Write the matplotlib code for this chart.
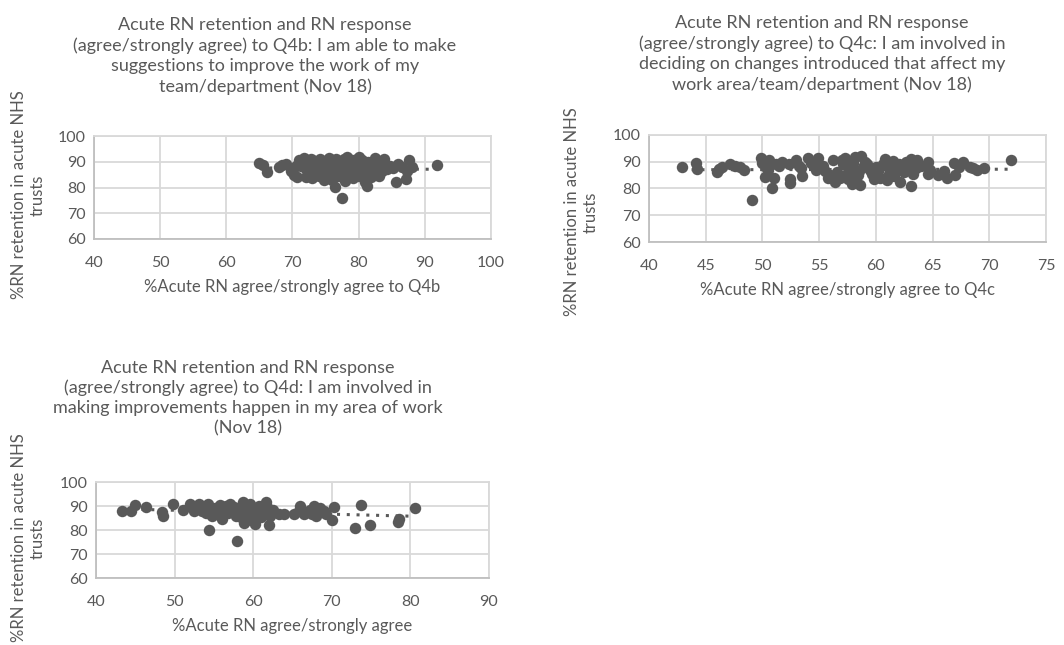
import numpy as np
import matplotlib
matplotlib.use("Agg")
import matplotlib.pyplot as plt

plt.rcParams['font.family'] = ['Lato', 'DejaVu Sans']

GREY = '#595959'
GRID = '#d9d9d9'

# Q4b: I am able to make suggestions ...
q4b_x = [65.0, 65.5, 66.1, 68.0, 68.4, 69.0, 69.8, 70.2, 70.7, 71.0, 71.3, 71.8, 72.0, 72.3, 72.5,
         72.8, 73.0, 73.2, 73.5, 73.8, 74.0, 74.2, 74.5, 74.8, 75.0, 75.2, 75.5, 75.8, 76.0, 76.2,
         76.4, 76.5, 76.8, 77.0, 77.2, 77.5, 77.5, 77.8, 78.0, 78.1, 78.3, 78.5, 78.6, 78.8, 79.0,
         79.2, 79.4, 79.5, 79.8, 80.0, 80.2, 80.4, 80.5, 80.8, 81.0, 81.2, 81.4, 81.5, 81.8, 82.0,
         82.2, 82.5, 82.8, 83.0, 83.3, 83.6, 84.0, 84.3, 84.8, 85.2, 85.6, 86.0, 86.5, 87.1, 87.3,
         87.6, 88.0, 91.8, 73.0, 75.5, 77.0, 79.0, 80.0, 81.0, 76.0, 74.0, 78.0, 82.0, 83.0, 72.0,
         70.5, 79.5, 77.8, 76.5, 80.8, 75.0, 83.8]
q4b_y = [89.5, 88.8, 86.2, 88.0, 88.7, 89.2, 86.5, 85.0, 84.0, 90.8, 88.5, 91.5, 87.0, 89.5, 85.5,
         91.0, 83.5, 88.0, 86.0, 90.0, 84.5, 91.2, 87.5, 83.0, 89.0, 85.5, 88.0, 84.0, 90.5, 86.5,
         80.3, 88.5, 89.5, 84.5, 90.0, 75.9, 86.0, 91.0, 82.5, 88.0, 91.8, 85.0, 89.0, 87.0, 90.5,
         83.5, 88.5, 86.0, 91.0, 84.5, 89.5, 87.0, 90.5, 85.5, 88.0, 80.6, 90.0, 86.5, 84.0, 89.0,
         87.5, 91.5, 85.0, 88.5, 90.0, 86.5, 88.0, 87.0, 88.5, 87.5, 82.1, 89.0, 88.0, 83.3, 86.5,
         90.7, 87.8, 88.7, 90.8, 91.5, 88.5, 87.5, 91.8, 82.0, 83.0, 86.5, 89.8, 86.0, 84.5, 84.0,
         88.5, 89.2, 85.2, 91.2, 88.8, 87.0, 91.0]

# Q4c: I am involved in deciding on changes ...
q4c_x = [42.9, 44.1, 44.2, 46.0, 46.2, 46.4, 47.1, 47.6, 48.0, 48.4, 49.1, 49.9, 50.0, 50.3, 50.2,
         50.6, 51.0, 50.8, 51.2, 51.7, 52.3, 52.4, 52.4, 53.2, 53.4, 53.5, 54.0, 54.3, 54.9, 54.7,
         55.3, 55.8, 56.2, 56.4, 56.6, 56.8, 57.1, 57.3, 57.5, 57.7, 57.9, 58.0, 58.2, 58.4, 58.6,
         58.7, 58.5, 58.9, 59.2, 59.5, 59.7, 60.0, 60.2, 60.4, 60.6, 60.8, 61.0, 61.2, 61.4, 61.6,
         61.8, 62.0, 62.1, 62.4, 62.7, 63.0, 63.1, 63.1, 63.3, 63.6, 64.0, 64.6, 64.6, 64.8, 65.5,
         66.0, 66.3, 66.9, 67.0, 67.3, 67.7, 68.3, 68.6, 68.9, 69.5, 71.9, 51.5, 55.0, 56.0, 57.0,
         58.0, 59.0, 60.0, 61.0, 62.5, 63.5, 55.5, 53.0, 50.5, 59.8, 61.5, 57.5]
q4c_y = [87.9, 89.7, 87.2, 86.2, 87.2, 88.2, 89.0, 88.3, 88.0, 87.1, 75.7, 91.5, 89.5, 88.0, 84.2,
         90.5, 84.0, 80.1, 89.0, 90.0, 89.0, 83.5, 82.0, 88.5, 87.5, 84.5, 91.5, 89.5, 91.5, 87.0,
         88.5, 84.0, 90.6, 82.3, 86.0, 84.0, 89.0, 91.5, 83.5, 87.0, 81.5, 89.5, 91.6, 85.0, 81.2,
         92.0, 86.5, 88.0, 89.0, 87.0, 85.5, 88.0, 86.5, 84.0, 89.0, 91.0, 83.0, 85.5, 87.5, 84.5,
         86.5, 89.0, 82.3, 88.0, 90.0, 87.0, 91.0, 81.0, 85.5, 90.5, 88.5, 90.0, 85.5, 87.0, 85.0,
         86.5, 84.0, 89.5, 85.0, 88.0, 90.0, 88.0, 87.5, 87.0, 87.5, 90.5, 88.5, 88.0, 85.0, 90.5,
         84.0, 90.0, 85.0, 88.5, 86.0, 87.5, 86.5, 90.5, 87.0, 83.5, 90.2, 86.0]

# Q4d: I am involved in making improvements happen ...
q4d_x = [43.3, 44.5, 45.0, 46.4, 48.4, 48.5, 49.8, 51.1, 52.0, 52.5, 53.1, 53.5, 54.4, 54.3, 54.8,
         55.2, 56.0, 56.3, 56.8, 57.1, 57.9, 58.0, 58.4, 58.7, 59.0, 59.2, 59.6, 59.8, 60.0, 60.2,
         60.5, 60.8, 61.0, 61.3, 61.6, 62.0, 62.2, 62.5, 63.3, 63.9, 65.2, 65.8, 66.0, 66.4, 66.7,
         67.2, 67.7, 68.0, 68.3, 68.7, 69.2, 70.0, 70.3, 72.9, 73.7, 74.8, 78.4, 78.5, 80.6, 53.8,
         55.5, 57.5, 58.8, 59.4, 60.4, 61.8, 54.0, 56.5, 57.8, 59.0, 60.0, 67.5, 68.5, 69.0, 61.5,
         52.8, 55.8]
q4d_y = [88.0, 88.0, 90.4, 89.4, 87.6, 86.0, 90.7, 88.5, 91.0, 88.0, 91.0, 88.0, 80.0, 91.0, 86.0,
         89.0, 84.5, 88.5, 87.0, 91.0, 75.6, 88.0, 85.5, 91.5, 87.0, 84.0, 91.0, 86.5, 89.0, 82.5,
         87.5, 90.0, 85.5, 88.0, 91.5, 82.0, 86.0, 88.5, 86.5, 86.5, 86.5, 88.0, 90.0, 86.5, 87.5,
         88.5, 90.0, 86.0, 88.5, 87.5, 86.5, 84.0, 89.5, 81.0, 90.5, 82.0, 83.5, 84.5, 89.0, 89.5,
         87.5, 89.5, 83.0, 88.5, 84.5, 89.5, 87.0, 90.0, 86.0, 90.5, 86.0, 86.5, 89.0, 88.0, 87.0,
         89.5, 90.5]

titles = [
    "Acute RN retention and RN response\n(agree/strongly agree) to Q4b: I am able to make\n"
    "suggestions to improve the work of my\nteam/department (Nov 18)",
    "Acute RN retention and RN response\n(agree/strongly agree) to Q4c: I am involved in\n"
    "deciding on changes introduced that affect my\nwork area/team/department (Nov 18)",
    "Acute RN retention and RN response\n(agree/strongly agree) to Q4d: I am involved in\n"
    "making improvements happen in my area of work\n(Nov 18)",
]
xlabels = ["%Acute RN agree/strongly agree to Q4b",
           "%Acute RN agree/strongly agree to Q4c",
           "%Acute RN agree/strongly agree"]
ylabel = "%RN retention in acute NHS\ntrusts"


def scatter_panel(ax, xs, ys, xlim, xstep, xlabel):
    ax.scatter(xs, ys, s=68, color=GREY, zorder=3, linewidths=0)
    # linear trend line
    k, b = np.polyfit(xs, ys, 1)
    tx = np.array([min(xs), max(xs)])
    ax.plot(tx, k * tx + b, linestyle=(0, (1, 2.2)), color=GREY, lw=2.2, zorder=2)
    ax.set_xlim(*xlim)
    ax.set_ylim(60, 100)
    ax.set_xticks(np.arange(xlim[0], xlim[1] + 1, xstep))
    ax.set_yticks(np.arange(60, 101, 10))
    ax.grid(color=GRID, lw=1.3, zorder=0)
    ax.tick_params(length=0, labelsize=11.5, colors=GREY)
    ax.tick_params(axis='x', pad=12)
    ax.tick_params(axis='y', pad=6)
    for sp in ax.spines.values():
        sp.set_color(GRID)
        sp.set_linewidth(1.3)
    ax.spines['left'].set_color('#bfbfbf')
    ax.spines['bottom'].set_color('#bfbfbf')
    ax.set_xlabel(xlabel, fontsize=12, color=GREY, labelpad=7)


fig = plt.figure(figsize=(10.64, 6.45), dpi=100)
W, H = 1064, 645

ax1 = fig.add_axes([94 / W, 1 - 239 / H, 397 / W, 103 / H])
ax2 = fig.add_axes([649 / W, 1 - 242 / H, 397 / W, 107 / H])
ax3 = fig.add_axes([96 / W, 1 - 578 / H, 393 / W, 96 / H])

scatter_panel(ax1, q4b_x, q4b_y, (40, 100), 10, xlabels[0])
scatter_panel(ax2, q4c_x, q4c_y, (40, 75), 5, xlabels[1])
scatter_panel(ax3, q4d_x, q4d_y, (40, 90), 10, xlabels[2])

tkw = dict(ha='center', va='center', fontsize=13, color=GREY, linespacing=1.3)
fig.text(265 / W, 1 - 56 / H, titles[0], **tkw)
fig.text(822 / W, 1 - 54 / H, titles[1], **tkw)
fig.text(248 / W, 1 - 398 / H, titles[2], **tkw)

ykw = dict(ha='center', va='center', rotation=90, fontsize=12, color=GREY, linespacing=1.2)
fig.text(28 / W, 1 - 195 / H, ylabel, **ykw)
fig.text(581 / W, 1 - 212 / H, ylabel, **ykw)
fig.text(28 / W, 1 - 538 / H, ylabel, **ykw)

fig.savefig("out.png", dpi=100)
